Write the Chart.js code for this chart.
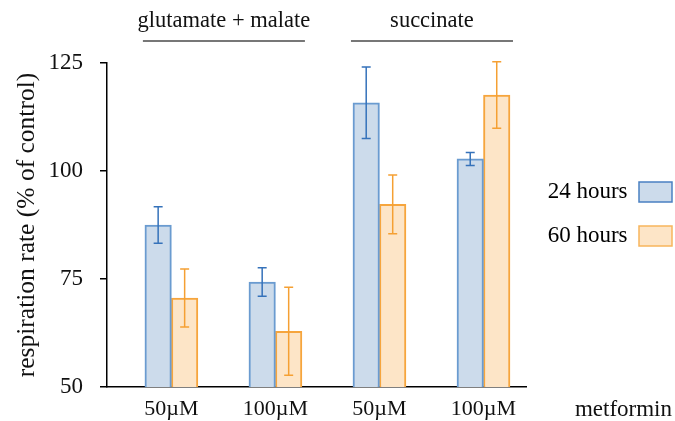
<!DOCTYPE html>
<html>
<head>
<meta charset="utf-8">
<script src="https://cdn.jsdelivr.net/npm/chart.js@4"></script>
<style>
html,body{margin:0;padding:0;background:#fff;}
#wrap{width:675px;height:421px;}
</style>
</head>
<body>
<div id="wrap"><canvas id="c" width="675" height="421"></canvas></div>
<script>
const categories = ['50µM', '100µM', '50µM', '100µM'];
const seriesNames = ['24 hours', '60 hours'];
const hours24 = [87.5, 74.3, 115.8, 102.8];
const hours24Err = [4.2, 3.3, 8.3, 1.5];
const hours60 = [70.6, 62.9, 92.3, 117.6];
const hours60Err = [6.7, 10.2, 6.8, 7.7];
const groupLabels = ['glutamate + malate', 'succinate'];
const groupStart = [0, 2];
const groupEnd = [1, 3];
const yTicks = [50, 75, 100, 125];
const xTitle = 'metformin';
const yTitle = 'respiration rate (% of control)';

const FONT = "'Liberation Serif', serif";

function pts(vals) { return vals.map((v, i) => ({x: i + 1, y: v})); }

const errorBars = {
  id: 'errorBars',
  afterDatasetsDraw(chart) {
    const ctx = chart.ctx;
    const ys = chart.scales.y;
    chart.data.datasets.forEach((ds, di) => {
      const meta = chart.getDatasetMeta(di);
      ctx.save();
      ctx.strokeStyle = ds.errColor;
      ctx.lineWidth = 1.5;
      meta.data.forEach((el, i) => {
        const v = ds.data[i].y, e = ds.errors[i];
        const top = ys.getPixelForValue(v + e), bot = ys.getPixelForValue(v - e);
        const x = el.x, hw = 4.5;
        ctx.beginPath();
        ctx.moveTo(x, top); ctx.lineTo(x, bot);
        ctx.moveTo(x - hw, top); ctx.lineTo(x + hw, top);
        ctx.moveTo(x - hw, bot); ctx.lineTo(x + hw, bot);
        ctx.stroke();
      });
      ctx.restore();
    });
  }
};

const groupHeaders = {
  id: 'groupHeaders',
  afterDraw(chart) {
    const ctx = chart.ctx;
    const xs = chart.scales.x;
    ctx.save();
    ctx.font = '22.5px ' + FONT;
    ctx.fillStyle = '#111';
    ctx.textAlign = 'center';
    ctx.textBaseline = 'middle';
    groupLabels.forEach((g, k) => {
      const x0 = xs.getPixelForValue(groupStart[k] + 1) - 28.5;
      const x1 = xs.getPixelForValue(groupEnd[k] + 1) + 29.5;
      ctx.fillText(g, (x0 + x1) / 2, 21);
      ctx.strokeStyle = '#777';
      ctx.lineWidth = 2;
      ctx.beginPath();
      ctx.moveTo(x0, 41); ctx.lineTo(x1, 41);
      ctx.stroke();
    });
    ctx.font = '23px ' + FONT;
    ctx.textAlign = 'right';
    ctx.fillText(xTitle, chart.width - 3, 410);
    ctx.restore();
  }
};

new Chart(document.getElementById('c'), {
  type: 'bar',
  data: {
    datasets: [
      {label: seriesNames[0], data: pts(hours24), errors: hours24Err, errColor: '#3572ba',
       backgroundColor: '#ccdbeb', borderColor: '#6a9bd0', borderWidth: 2, borderSkipped: 'bottom'},
      {label: seriesNames[1], data: pts(hours60), errors: hours60Err, errColor: '#f5a033',
       backgroundColor: '#fde5c7', borderColor: '#f6a53d', borderWidth: 2, borderSkipped: 'bottom'}
    ]
  },
  options: {
    responsive: false,
    animation: false,
    devicePixelRatio: 1,
    barThickness: 26.5,
    layout: {padding: {top: 7, left: 0, right: -18, bottom: 0}},
    plugins: {
      title: {display: true, text: '', padding: 0, font: {size: 56, lineHeight: 1}},
      legend: {
        position: 'right',
        rtl: true,
        align: 'center',
        labels: {
          font: {family: FONT, size: 23},
          color: '#111',
          boxWidth: 33,
          boxHeight: 20,
          padding: 21,
          generateLabels(chart) {
            return chart.data.datasets.map((d, i) => ({
              text: '  ' + d.label, fillStyle: d.backgroundColor,
              strokeStyle: i === 0 ? '#4a80c2' : '#f7b55c', lineWidth: 1.5,
              datasetIndex: i, hidden: false
            }));
          }
        }
      },
      tooltip: {enabled: false}
    },
    scales: {
      x: {
        type: 'linear',
        offset: false,
        min: 0.381,
        max: 4.41,
        afterFit(scale) { scale.height = 34; },
        grid: {display: true, drawOnChartArea: false, drawTicks: false},
        border: {display: true, color: '#000', width: 1.5},
        ticks: {
          stepSize: 1,
          includeBounds: false,
          padding: 9,
          color: '#111',
          font: {family: FONT, size: 22},
          callback: (v) => Number.isInteger(v) && v >= 1 && v <= categories.length ? categories[v - 1] : ''
        }
      },
      y: {
        min: yTicks[0],
        max: yTicks[yTicks.length - 1],
        afterBuildTicks(scale) { scale.ticks = yTicks.map(v => ({value: v})); },
        afterFit(scale) { scale.width = 107; },
        grid: {display: true, drawOnChartArea: false, drawTicks: true, tickLength: 7, color: '#000', lineWidth: 1.5},
        border: {display: true, color: '#000', width: 1.5},
        ticks: {padding: 17, color: '#111', font: {family: FONT, size: 23}},
        title: {display: true, text: yTitle, color: '#111', font: {family: FONT, size: 25.5}, padding: {top: 12, bottom: 0}}
      }
    }
  },
  plugins: [errorBars, groupHeaders]
});
</script>
</body>
</html>
